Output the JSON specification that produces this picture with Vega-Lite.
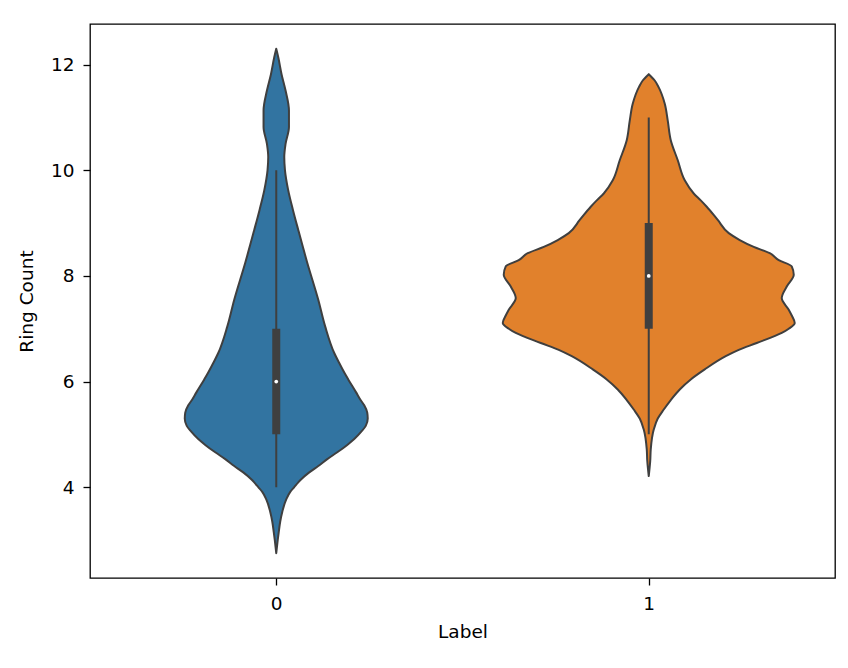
{
  "$schema": "https://vega.github.io/schema/vega-lite/v6.json",
  "width": 745,
  "height": 554,
  "autosize": {"type": "none"},
  "padding": {"left": 90, "top": 24, "right": 13, "bottom": 90},
  "background": "white",
  "datasets": {
    "violin": [
      {"label": 0, "ring": 2.75, "w": 0},
      {"label": 0, "ring": 3.0, "w": 0.004},
      {"label": 0, "ring": 3.15, "w": 0.0067},
      {"label": 0, "ring": 3.35, "w": 0.0107},
      {"label": 0, "ring": 3.53, "w": 0.0161},
      {"label": 0, "ring": 3.77, "w": 0.0268},
      {"label": 0, "ring": 3.91, "w": 0.0376},
      {"label": 0, "ring": 4.0, "w": 0.0483},
      {"label": 0, "ring": 4.09, "w": 0.0591},
      {"label": 0, "ring": 4.15, "w": 0.0671},
      {"label": 0, "ring": 4.28, "w": 0.0886},
      {"label": 0, "ring": 4.4, "w": 0.1128},
      {"label": 0, "ring": 4.53, "w": 0.1369},
      {"label": 0, "ring": 4.66, "w": 0.1638},
      {"label": 0, "ring": 4.8, "w": 0.1906},
      {"label": 0, "ring": 4.91, "w": 0.2094},
      {"label": 0, "ring": 5.05, "w": 0.2282},
      {"label": 0, "ring": 5.16, "w": 0.2403},
      {"label": 0, "ring": 5.3, "w": 0.2456},
      {"label": 0, "ring": 5.41, "w": 0.2443},
      {"label": 0, "ring": 5.55, "w": 0.2362},
      {"label": 0, "ring": 5.66, "w": 0.2255},
      {"label": 0, "ring": 5.79, "w": 0.2148},
      {"label": 0, "ring": 6.04, "w": 0.1933},
      {"label": 0, "ring": 6.17, "w": 0.1826},
      {"label": 0, "ring": 6.35, "w": 0.1691},
      {"label": 0, "ring": 6.54, "w": 0.1557},
      {"label": 0, "ring": 7.04, "w": 0.1315},
      {"label": 0, "ring": 7.55, "w": 0.1128},
      {"label": 0, "ring": 8.25, "w": 0.0832},
      {"label": 0, "ring": 8.87, "w": 0.0591},
      {"label": 0, "ring": 9.25, "w": 0.0448},
      {"label": 0, "ring": 9.62, "w": 0.0322},
      {"label": 0, "ring": 10.0, "w": 0.0234},
      {"label": 0, "ring": 10.25, "w": 0.0215},
      {"label": 0, "ring": 10.5, "w": 0.025},
      {"label": 0, "ring": 10.82, "w": 0.0341},
      {"label": 0, "ring": 11.13, "w": 0.0341},
      {"label": 0, "ring": 11.51, "w": 0.025},
      {"label": 0, "ring": 11.82, "w": 0.0142},
      {"label": 0, "ring": 12.14, "w": 0.0054},
      {"label": 0, "ring": 12.3, "w": 0},
      {"label": 1, "ring": 4.21, "w": 0},
      {"label": 1, "ring": 4.5, "w": 0.004},
      {"label": 1, "ring": 4.72, "w": 0.0054},
      {"label": 1, "ring": 5.09, "w": 0.0134},
      {"label": 1, "ring": 5.3, "w": 0.0242},
      {"label": 1, "ring": 5.47, "w": 0.0403},
      {"label": 1, "ring": 5.65, "w": 0.0591},
      {"label": 1, "ring": 5.85, "w": 0.0832},
      {"label": 1, "ring": 6.04, "w": 0.1128},
      {"label": 1, "ring": 6.23, "w": 0.1503},
      {"label": 1, "ring": 6.48, "w": 0.2067},
      {"label": 1, "ring": 6.6, "w": 0.2416},
      {"label": 1, "ring": 6.73, "w": 0.2899},
      {"label": 1, "ring": 6.92, "w": 0.357},
      {"label": 1, "ring": 7.0, "w": 0.3758},
      {"label": 1, "ring": 7.11, "w": 0.3919},
      {"label": 1, "ring": 7.25, "w": 0.3839},
      {"label": 1, "ring": 7.36, "w": 0.3758},
      {"label": 1, "ring": 7.58, "w": 0.357},
      {"label": 1, "ring": 7.8, "w": 0.3705},
      {"label": 1, "ring": 8.02, "w": 0.3893},
      {"label": 1, "ring": 8.18, "w": 0.3839},
      {"label": 1, "ring": 8.3, "w": 0.349},
      {"label": 1, "ring": 8.43, "w": 0.3248},
      {"label": 1, "ring": 8.55, "w": 0.2819},
      {"label": 1, "ring": 8.68, "w": 0.2443},
      {"label": 1, "ring": 8.81, "w": 0.2148},
      {"label": 1, "ring": 9.06, "w": 0.1852},
      {"label": 1, "ring": 9.31, "w": 0.1557},
      {"label": 1, "ring": 9.43, "w": 0.1396},
      {"label": 1, "ring": 9.56, "w": 0.1208},
      {"label": 1, "ring": 9.81, "w": 0.0966},
      {"label": 1, "ring": 10.19, "w": 0.0779},
      {"label": 1, "ring": 10.57, "w": 0.0591},
      {"label": 1, "ring": 10.94, "w": 0.051},
      {"label": 1, "ring": 11.26, "w": 0.043},
      {"label": 1, "ring": 11.57, "w": 0.0268},
      {"label": 1, "ring": 11.7, "w": 0.0161},
      {"label": 1, "ring": 11.82, "w": 0}
    ],
    "stats": [
      {"label": 0, "min": 4, "q1": 5, "med": 6, "q3": 7, "max": 10},
      {"label": 1, "min": 5, "q1": 7, "med": 8, "q3": 9, "max": 11}
    ]
  },
  "layer": [
    {
      "data": {"name": "violin"},
      "transform": [
        {"calculate": "datum.label - datum.w", "as": "lo"},
        {"calculate": "datum.label + datum.w", "as": "hi"}
      ],
      "mark": {
        "type": "area",
        "orient": "horizontal",
        "interpolate": "monotone",
        "stroke": "#3f3f3f",
        "strokeWidth": 2,
        "strokeJoin": "round",
        "fillOpacity": 1
      },
      "encoding": {
        "y": {"field": "ring", "type": "quantitative", "title": "Ring Count"},
        "x": {"field": "lo", "type": "quantitative", "title": "Label"},
        "x2": {"field": "hi"},
        "color": {
          "field": "label",
          "type": "nominal",
          "scale": {"domain": [0, 1], "range": ["#3274a1", "#e1812c"]},
          "legend": null
        }
      }
    },
    {
      "data": {"name": "stats"},
      "mark": {"type": "rule", "color": "#3f3f3f", "strokeWidth": 2},
      "encoding": {
        "x": {"field": "label", "type": "quantitative", "title": "Label"},
        "y": {"field": "min", "type": "quantitative", "title": "Ring Count"},
        "y2": {"field": "max"}
      }
    },
    {
      "data": {"name": "stats"},
      "mark": {"type": "rule", "color": "#3f3f3f", "strokeWidth": 8, "strokeCap": "butt"},
      "encoding": {
        "x": {"field": "label", "type": "quantitative", "title": "Label"},
        "y": {"field": "q1", "type": "quantitative", "title": "Ring Count"},
        "y2": {"field": "q3"}
      }
    },
    {
      "data": {"name": "stats"},
      "mark": {"type": "point", "filled": true, "color": "white", "opacity": 1, "size": 14},
      "encoding": {
        "x": {"field": "label", "type": "quantitative", "title": "Label"},
        "y": {"field": "med", "type": "quantitative", "title": "Ring Count"}
      }
    }
  ],
  "resolve": {"scale": {"color": "independent"}},
  "encoding": {
    "x": {
      "scale": {"domain": [-0.5, 1.5], "nice": false, "zero": false},
      "axis": {"values": [0, 1], "format": "d", "titlePadding": 10}
    },
    "y": {
      "scale": {"domain": [2.28, 12.77], "nice": false, "zero": false},
      "axis": {"values": [4, 6, 8, 10, 12], "format": "d", "titlePadding": 14}
    }
  },
  "config": {
    "view": {"stroke": "#000000", "strokeWidth": 1.3},
    "axis": {
      "grid": false,
      "domain": false,
      "tickColor": "#000000",
      "tickWidth": 1.3,
      "tickSize": 7,
      "labelFont": "DejaVu Sans",
      "labelFontSize": 18.5,
      "labelColor": "#000000",
      "labelPadding": 9,
      "titleFont": "DejaVu Sans",
      "titleFontSize": 18.5,
      "titleFontWeight": "normal",
      "titleColor": "#000000"
    }
  }
}
